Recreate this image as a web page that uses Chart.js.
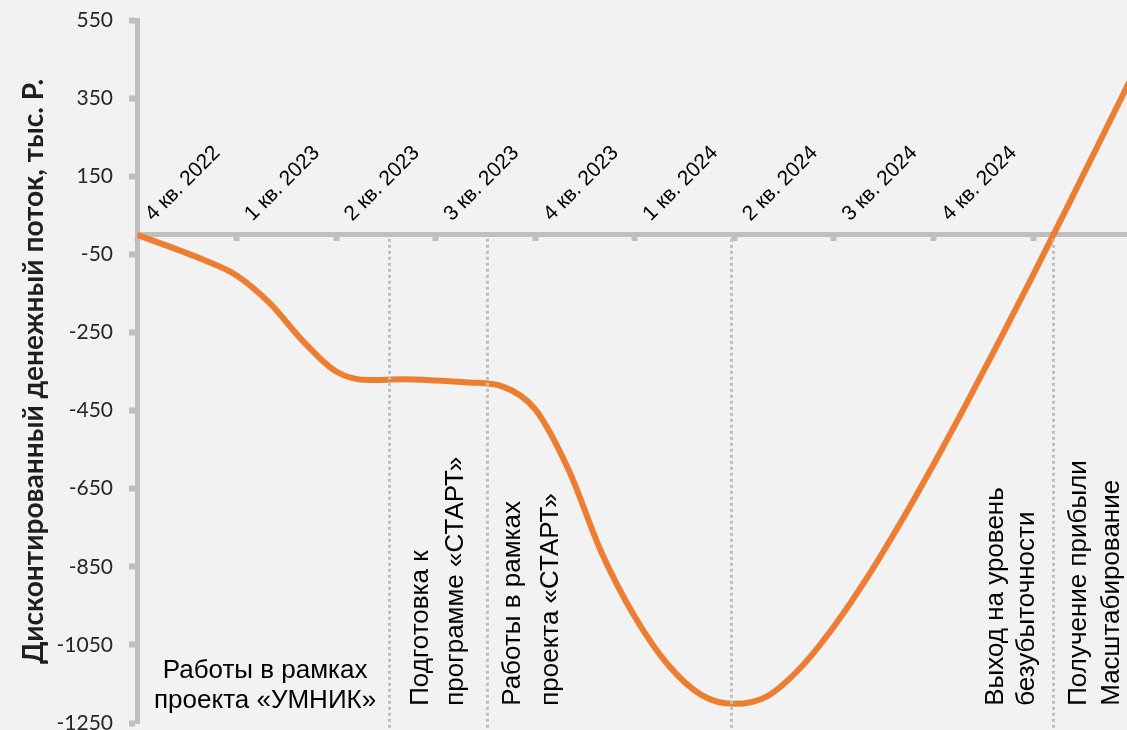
<!DOCTYPE html>
<html>
<head>
<meta charset="utf-8">
<script src="https://cdn.jsdelivr.net/npm/chart.js@4.4.0/dist/chart.umd.min.js"></script>
<style>
  html, body { margin: 0; padding: 0; background: #f2f2f2; overflow: hidden; }
  #c { display: block; }
</style>
</head>
<body>
<canvas id="c" width="1127" height="730"></canvas>
<script>
// ---- data ----
const quarterLabels = ['4 кв. 2022', '1 кв. 2023', '2 кв. 2023', '3 кв. 2023', '4 кв. 2023',
                       '1 кв. 2024', '2 кв. 2024', '3 кв. 2024', '4 кв. 2024'];
const quarterMonths = [0, 3, 6, 9, 12, 15, 18, 21, 24, 27];
const months = [0, 1, 2, 3, 4, 5, 6, 7, 8, 9, 10, 11, 12, 13, 14, 15, 16, 17, 18, 19, 20,
                21, 22, 23, 24, 25, 26, 27, 28, 29, 30];
const cashFlow = [0, -31, -64, -104, -175, -272, -350, -372, -370, -373, -378, -388, -447,
                  -601, -814, -978, -1101, -1178, -1201, -1181, -1108, -1003, -878, -738,
                  -588, -431, -269, -103, 66, 237, 409];
const milestoneMonths = [7.59, 10.55, 17.9, 27.6];
const stageTexts = [
  ['Работы в рамках', 'проекта «УМНИК»'],
  ['Подготовка к', 'программе «СТАРТ»'],
  ['Работы в рамках', 'проекта «СТАРТ»'],
  ['Выход на уровень', 'безубыточности'],
  ['Получение прибыли', 'Масштабирование']
];
const yTitle = 'Дисконтированный денежный поток, тыс. Р.';

// ---- layout of annotations (data coordinates) ----
const stageLayout = [
  { m: 3.86, v: -1212, rotated: false, lh: 30 },
  { m: 9.09, v: -1206, rotated: true, lh: 35 },
  { m: 11.9, v: -1206, rotated: true, lh: 38 },
  { m: 26.35, v: -1206, rotated: true, lh: 31 },
  { m: 28.89, v: -1206, rotated: true, lh: 33 }
];

const GRAY = '#bfbfbf';
const TEXT_FONT = '"Liberation Sans", Arial, sans-serif';

const annotPlugin = {
  id: 'annot',
  afterDatasetsDraw(chart) {
    const { ctx, scales: { x, y } } = chart;
    ctx.save();
    ctx.strokeStyle = GRAY;
    ctx.lineWidth = 3;
    ctx.setLineDash([3, 3]);
    const top = y.getPixelForValue(0) + 4;
    milestoneMonths.forEach(m => {
      const px = Math.round(x.getPixelForValue(m)) + 0.5;
      ctx.beginPath();
      ctx.moveTo(px, top);
      ctx.lineTo(px, chart.height);
      ctx.stroke();
    });
    ctx.restore();
  },
  afterDraw(chart) {
    const { ctx, scales: { x, y } } = chart;
    const zeroY = y.getPixelForValue(0);
    ctx.save();
    // quarter labels, rotated
    ctx.fillStyle = '#000';
    ctx.font = '21px ' + TEXT_FONT;
    ctx.textAlign = 'left';
    ctx.textBaseline = 'alphabetic';
    quarterLabels.forEach((lab, i) => {
      const px = x.getPixelForValue(quarterMonths[i]);
      ctx.save();
      ctx.translate(px + 16, zeroY - 13);
      ctx.rotate(-Math.PI / 4);
      ctx.fillText(lab, 0, 0);
      ctx.restore();
    });
    // stage notes
    ctx.font = '26px ' + TEXT_FONT;
    stageTexts.forEach((lines, i) => {
      const L = stageLayout[i];
      const px = x.getPixelForValue(L.m);
      const py = y.getPixelForValue(L.v);
      ctx.save();
      if (L.rotated) {
        ctx.translate(px, py);
        ctx.rotate(-Math.PI / 2);
        ctx.textAlign = 'left';
        ctx.textBaseline = 'middle';
        lines.forEach((t, k) => {
          ctx.fillText(t, 0, (k - (lines.length - 1) / 2) * L.lh);
        });
      } else {
        ctx.textAlign = 'center';
        ctx.textBaseline = 'alphabetic';
        lines.forEach((t, k) => {
          ctx.fillText(t, px, py - (lines.length - 1 - k) * L.lh);
        });
      }
      ctx.restore();
    });
    ctx.restore();
  }
};

new Chart(document.getElementById('c'), {
  type: 'line',
  data: {
    datasets: [{
      data: months.map((m, i) => ({ x: m, y: cashFlow[i] })),
      borderColor: '#ed7d31',
      borderWidth: 6,
      pointRadius: 0,
      cubicInterpolationMode: 'monotone',
      fill: false
    }]
  },
  options: {
    responsive: false,
    animation: false,
    devicePixelRatio: 1,
    layout: { padding: { top: 20, bottom: 7, left: 0, right: 0 } },
    plugins: { legend: { display: false }, tooltip: { enabled: false } },
    scales: {
      y: {
        type: 'linear',
        position: 'left',
        min: -1250,
        max: 550,
        ticks: {
          stepSize: 200,
          padding: 16,
          color: '#262626',
          font: { family: 'Lato', size: 21 },
          callback: v => String(v)
        },
        grid: { drawOnChartArea: false, drawTicks: true, tickLength: 8, tickWidth: 6, tickColor: GRAY },
        border: { display: true, color: GRAY, width: 5 },
        title: {
          display: true,
          text: yTitle,
          color: '#1f1f1f',
          font: { family: 'Lato', size: 28, weight: 'bold' },
          padding: { top: 17, bottom: 0 }
        },
        afterFit(s) { s.width = 137; s.paddingTop = 0; s.paddingBottom = 0; }
      },
      x: {
        type: 'linear',
        position: { y: 0 },
        min: 0,
        max: 29.83,
        afterBuildTicks(s) { s.ticks = quarterMonths.map(v => ({ value: v })); },
        ticks: { display: false },
        grid: { drawOnChartArea: false, drawTicks: true, tickLength: 4, tickWidth: 6, tickColor: GRAY },
        border: { display: true, color: GRAY, width: 5 }
      }
    }
  },
  plugins: [annotPlugin]
});
</script>
</body>
</html>
